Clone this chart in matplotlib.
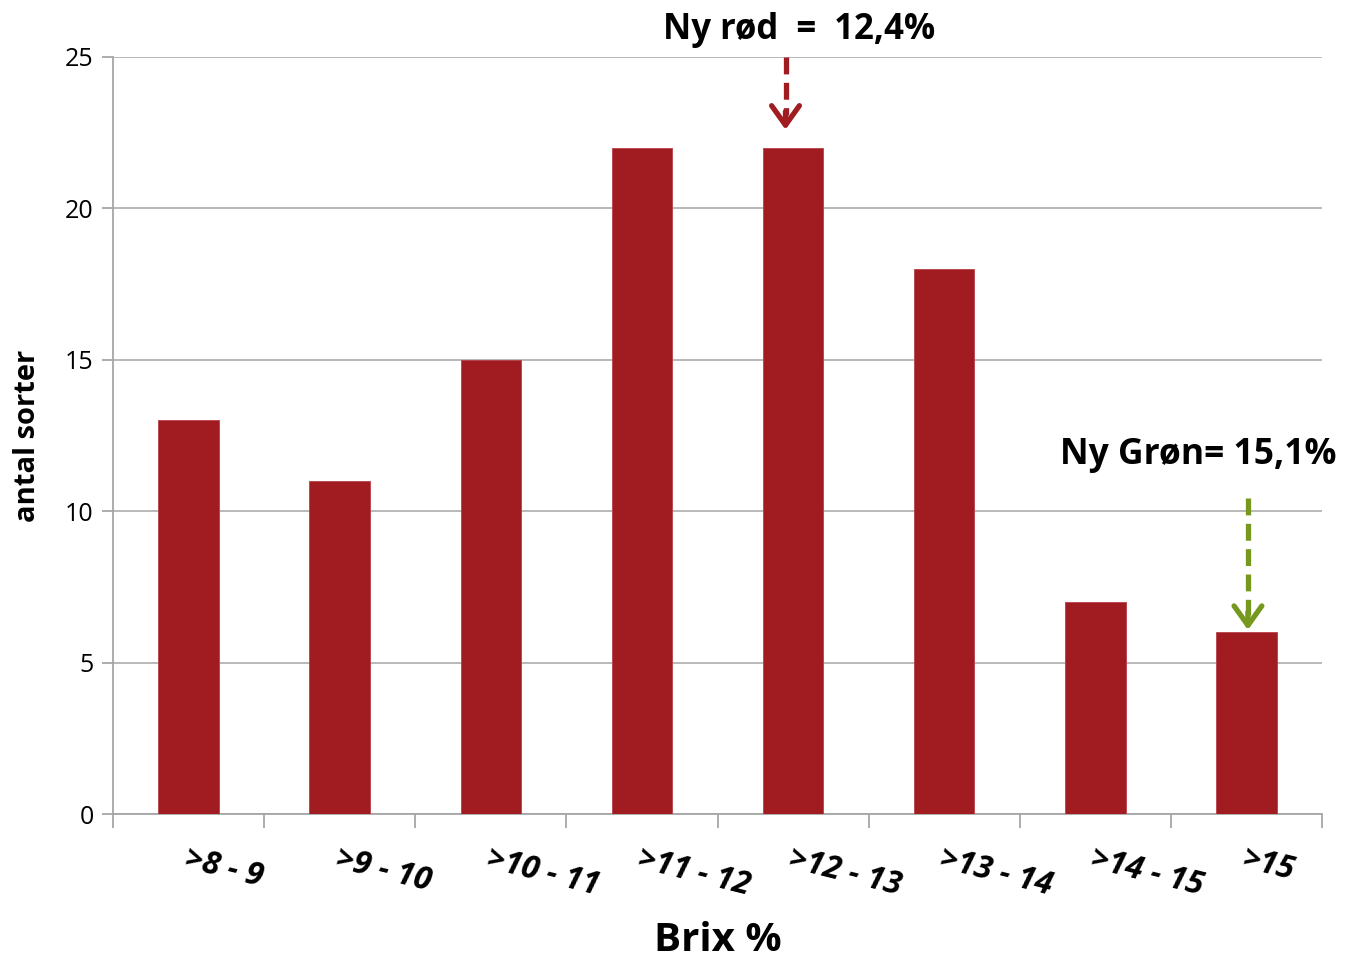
import matplotlib.pyplot as plt
from matplotlib.ticker import FixedLocator

plt.rcParams['font.family'] = ['Open Sans', 'DejaVu Sans']

# Antal sorter pr. brix-interval
kategorier = ['>8 - 9', '>9 - 10', '>10 - 11', '>11 - 12',
              '>12 - 13', '>13 - 14', '>14 - 15', '>15']
antal = [13, 11, 15, 22, 22, 18, 7, 6]
y_ticks = [0, 5, 10, 15, 20, 25]

rod_tekst = 'Ny rød  =  12,4%'
gron_tekst = 'Ny Grøn= 15,1%'

bar_farve = '#A11C21'
rod_pil = '#A11C21'
gron_pil = '#77981F'
graa = '#A6A6A6'

fig = plt.figure(figsize=(13.47, 9.59), dpi=100)
ax = fig.add_axes([113 / 1347, 1 - 814 / 959, (1322 - 113) / 1347, (814 - 57) / 959])

x = list(range(len(kategorier)))
ax.bar(x, antal, width=0.4, color=bar_farve, edgecolor='#B84048', linewidth=0.6, zorder=3)

ax.set_xlim(-0.5, len(kategorier) - 0.5)
ax.set_ylim(0, 25)
ax.set_yticks(y_ticks)
ax.yaxis.grid(True, color=graa, linewidth=1.1, zorder=0)

for s in ['top', 'right']:
    ax.spines[s].set_visible(False)
for s in ['left', 'bottom']:
    ax.spines[s].set_color(graa)
    ax.spines[s].set_linewidth(1.3)

# Streger mellem kategorierne, labels ved søjlerne
ax.xaxis.set_major_locator(FixedLocator([i - 0.5 for i in range(len(kategorier) + 1)]))
ax.xaxis.set_major_formatter(plt.NullFormatter())
ax.xaxis.set_minor_locator(FixedLocator(x))
ax.set_xticklabels(kategorier, minor=True)
ax.tick_params(axis='x', which='major', length=10, width=1.3, color=graa, direction='out')
ax.tick_params(axis='x', which='minor', length=0, pad=21)
for lbl in ax.get_xticklabels(minor=True):
    lbl.set_rotation(-14)
    lbl.set_rotation_mode('anchor')
    lbl.set_ha('left')
    lbl.set_va('top')
    lbl.set_fontsize(23)
    lbl.set_fontweight('bold')
    lbl.set_fontstyle('italic')

ax.tick_params(axis='y', length=8, width=1.3, color=graa, labelsize=18, pad=6)

ax.set_xlabel('Brix %', fontsize=29, fontweight='bold')
ax.set_ylabel('antal sorter', fontsize=21, fontweight='bold')
ax.xaxis.set_label_coords(0.5, -0.142)
ax.yaxis.set_label_coords(-0.059, 0.50)


def stiplet_pil(x0, y_fra, y_til, farve):
    # stiplet skaft og massivt pilehoved
    ax.plot([x0, x0], [y_fra, y_til + 0.5], color=farve, lw=3.8,
            linestyle=(0, (3.2, 1.6)), solid_capstyle='butt', zorder=5, clip_on=False)
    ax.annotate('', xy=(x0, y_til), xytext=(x0, y_til + 0.6),
                arrowprops=dict(arrowstyle='->,head_length=0.7,head_width=0.5',
                                color=farve, lw=3.8, mutation_scale=20,
                                shrinkA=0, shrinkB=0),
                annotation_clip=False, zorder=6)


stiplet_pil(3.95, 25, 22.6, rod_pil)
stiplet_pil(7.01, 10.45, 6.08, gron_pil)

ax.text(4.04, 25.9, rod_tekst, ha='center', va='center', fontsize=25,
        fontweight='bold', clip_on=False)
ax.text(6.68, 11.86, gron_tekst, ha='center', va='center', fontsize=25.5,
        fontweight='bold', clip_on=False)

fig.savefig('out.png', dpi=100)
